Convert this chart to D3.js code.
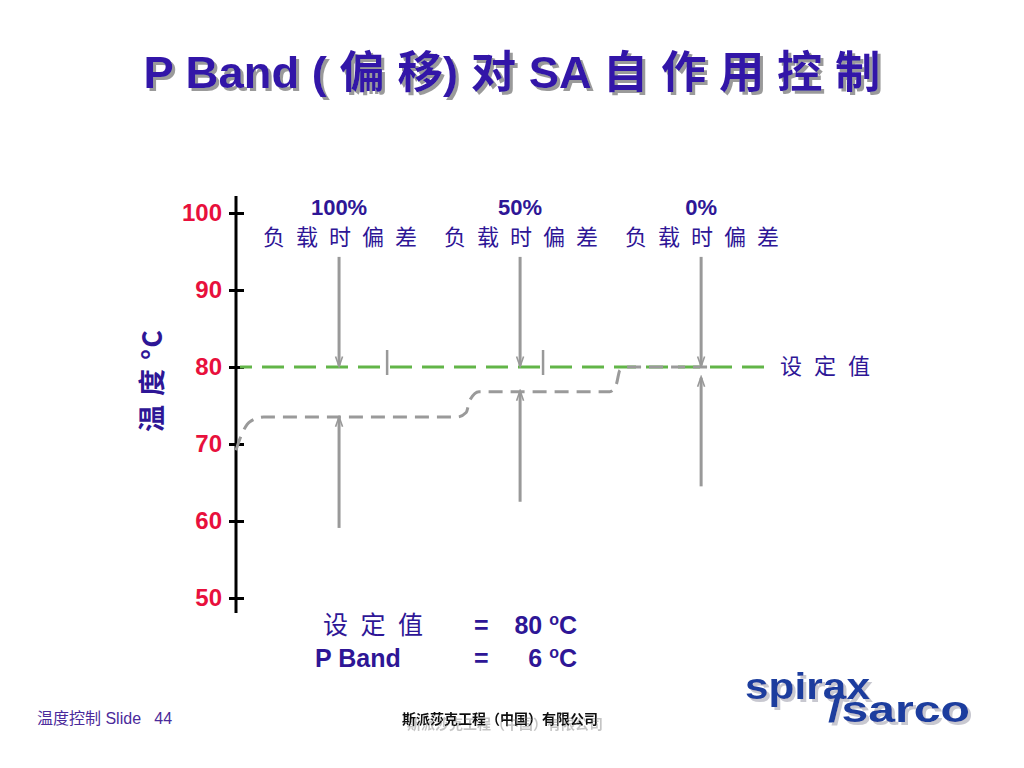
<!DOCTYPE html>
<html><head><meta charset="utf-8">
<script src="https://cdn.jsdelivr.net/npm/d3@7"></script>
<style>
html,body{margin:0;padding:0;background:#fff;}
svg{display:block;}
</style></head>
<body>
<script>
// ---- data ----
const yTicks = [50, 60, 70, 80, 90, 100];
const setpoint = 80;
const loadLabels = ["100%", "50%", "0%"];
const offsetLabel = "负 载 时 偏 差";
const arrowX = [19.3, 53.2, 87.1];          // horizontal positions (0..100)
const downArrowFrom = [94.3, 94.3, 94.3];    // °C
const downArrowTo = [80.2, 80.2, 80.2];
const upArrowFrom = [59.1, 62.5, 64.5];
const upArrowTo = [73.4, 76.8, 78.6];
const markerX = [28.3, 57.5];                // short marks on setpoint line
const curveX = [0, 1.1, 2.6, 5.2, 41.4, 43.1, 43.8, 45.5, 70.0, 71.2, 71.9, 73.4, 89.7];
const curveT = [69.2, 71.3, 72.9, 73.5, 73.5, 74.1, 75.7, 76.8, 76.8, 77.7, 79.6, 80, 80];

const W = 1024, H = 768;
const svg = d3.select("body").append("svg").attr("width", W).attr("height", H);
const latin = "'Liberation Sans', Arial, 'Noto Sans CJK SC', sans-serif";
const cjk = "'Noto Sans CJK SC', 'Liberation Sans', sans-serif";
const blue = "#2e1696";

const x = d3.scaleLinear().domain([0, 100]).range([236, 770]);
const y = d3.scaleLinear().domain([50, 100]).range([598, 213]);

// defs
const defs = svg.append("defs");
defs.append("marker").attr("id", "ah").attr("viewBox", "0 0 10 10")
  .attr("refX", 9).attr("refY", 5)
  .attr("markerUnits", "userSpaceOnUse").attr("orient", "auto")
  .attr("markerWidth", 14).attr("markerHeight", 10)
  .append("path").attr("d", "M0,1.5 L10,5 L0,8.5").attr("fill", "none")
  .attr("stroke", "#999").attr("stroke-width", 1.6);
function shadow(id, dx, dy, color) {
  const f = defs.append("filter").attr("id", id).attr("x", "-10%").attr("y", "-30%")
    .attr("width", "130%").attr("height", "180%");
  f.append("feDropShadow").attr("dx", dx).attr("dy", dy).attr("stdDeviation", 0.3)
    .attr("flood-color", color).attr("flood-opacity", 1);
}
shadow("shT", 3, 3, "#9a9a9a");
shadow("shC", 5, 5, "#c4c4c4");
shadow("shL", 3, 3, "#c8c8d0");

// title
const title = "P Band ( 偏 移) 对 SA 自 作 用 控 制";
svg.append("text").attr("x", 512).attr("y", 88)
  .attr("text-anchor", "middle").attr("font-family", latin)
  .attr("font-weight", "bold").attr("font-size", 44).attr("fill", "#3214a8")
  .attr("textLength", 737).attr("lengthAdjust", "spacingAndGlyphs")
  .attr("filter", "url(#shT)").text(title);

// axis
const axis = d3.axisLeft(y).tickValues(yTicks).tickSize(0).tickPadding(14);
const gAx = svg.append("g").attr("transform", "translate(236,0)").call(axis);
gAx.select(".domain").remove();
gAx.selectAll("text").attr("font-family", latin).attr("font-weight", "bold")
  .attr("font-size", 24).attr("fill", "#e8103c");
gAx.append("line").attr("x1", 0).attr("x2", 0).attr("y1", 196).attr("y2", 613)
  .attr("stroke", "#000").attr("stroke-width", 3);
gAx.selectAll(".tick").append("line").attr("x1", -7).attr("x2", 8)
  .attr("stroke", "#000").attr("stroke-width", 3);

// y label
svg.append("text").attr("transform", "translate(162,381) rotate(-90)")
  .attr("text-anchor", "middle").attr("font-family", cjk).attr("font-weight", "bold")
  .attr("font-size", 27).attr("fill", blue)
  .attr("textLength", 102).attr("lengthAdjust", "spacing").text("温 度 °C");

// setpoint green dashed line
svg.append("line").attr("x1", x(0) + 4).attr("x2", x(100)).attr("y1", y(setpoint)).attr("y2", y(setpoint))
  .attr("stroke", "#62b548").attr("stroke-width", 3).attr("stroke-dasharray", "22 10")
  .attr("stroke-dashoffset", 10);

// gray process curve
const line = d3.line().x(d => x(d[0])).y(d => y(d[1])).curve(d3.curveMonotoneX);
svg.append("path").datum(curveX.map((v, i) => [v, curveT[i]]))
  .attr("d", line).attr("fill", "none").attr("stroke", "#9a9a9a")
  .attr("stroke-width", 3).attr("stroke-dasharray", "14 8");

// marker ticks on setpoint line
svg.selectAll(".mk").data(markerX).enter().append("line")
  .attr("x1", d => x(d)).attr("x2", d => x(d))
  .attr("y1", y(setpoint) - 17).attr("y2", y(setpoint) + 8)
  .attr("stroke", "#999").attr("stroke-width", 2.5);

// arrows
arrowX.forEach((ax, i) => {
  svg.append("line").attr("x1", x(ax)).attr("x2", x(ax))
    .attr("y1", y(downArrowFrom[i])).attr("y2", y(downArrowTo[i]))
    .attr("stroke", "#999").attr("stroke-width", 3).attr("marker-end", "url(#ah)");
  svg.append("line").attr("x1", x(ax)).attr("x2", x(ax))
    .attr("y1", y(upArrowFrom[i])).attr("y2", y(upArrowTo[i]))
    .attr("stroke", "#999").attr("stroke-width", 3).attr("marker-end", "url(#ah)");
  svg.append("text").attr("x", x(ax)).attr("y", 215).attr("text-anchor", "middle")
    .attr("font-family", latin).attr("font-weight", "bold").attr("font-size", 22)
    .attr("fill", blue).text(loadLabels[i]);
  svg.append("text").attr("x", x(ax) - 76).attr("y", 245)
    .attr("font-family", cjk).attr("font-size", 22)
    .attr("textLength", 154).attr("lengthAdjust", "spacing")
    .attr("fill", blue).text(offsetLabel);
});

// setpoint label
svg.append("text").attr("x", 780).attr("y", 374).attr("font-family", cjk)
  .attr("font-size", 22).attr("fill", blue)
  .attr("textLength", 90).attr("lengthAdjust", "spacing").text("设 定 值");

// bottom info
const info = svg.append("g").attr("font-family", latin).attr("font-weight", "bold")
  .attr("font-size", 25).attr("fill", blue);
info.append("text").attr("x", 323).attr("y", 634).attr("font-family", cjk).attr("font-weight", "normal")
  .attr("font-size", 25).attr("textLength", 100).attr("lengthAdjust", "spacing").text("设 定 值");
info.append("text").attr("x", 315).attr("y", 667).text("P Band");
info.append("text").attr("x", 474).attr("y", 634).text("=");
info.append("text").attr("x", 474).attr("y", 667).text("=");
const t1 = info.append("text").attr("x", 577).attr("y", 634).attr("text-anchor", "end");
t1.append("tspan").text("80 ");
t1.append("tspan").attr("font-size", 16).attr("dy", -9).text("o");
t1.append("tspan").attr("dy", 9).text("C");
const t2 = info.append("text").attr("x", 577).attr("y", 667).attr("text-anchor", "end");
t2.append("tspan").text("6 ");
t2.append("tspan").attr("font-size", 16).attr("dy", -9).text("o");
t2.append("tspan").attr("dy", 9).text("C");

// footer
svg.append("text").attr("x", 37).attr("y", 724).attr("font-family", "'Liberation Sans', 'Noto Sans CJK SC', sans-serif")
  .attr("font-size", 16).attr("fill", "#4b2a9b").style("white-space", "pre").text("温度控制 Slide   44");
svg.append("text").attr("x", 500).attr("y", 724).attr("text-anchor", "middle").attr("font-family", cjk)
  .attr("font-size", 14).attr("font-weight", "bold").attr("fill", "#111")
  .attr("filter", "url(#shC)").text("斯派莎克工程（中国）有限公司");

// logo
const logo = svg.append("g").attr("font-family", latin).attr("font-weight", "bold").attr("filter", "url(#shL)");
logo.append("text").attr("x", 745).attr("y", 699).attr("font-size", 36)
  .attr("fill", "#1d3e9e").attr("textLength", 125).attr("lengthAdjust", "spacingAndGlyphs").text("spirax");
logo.append("text").attr("x", 828).attr("y", 722).attr("font-size", 36)
  .attr("fill", "#1d3e9e").attr("textLength", 142).attr("lengthAdjust", "spacingAndGlyphs").text("/sarco");
</script>
</body></html>
